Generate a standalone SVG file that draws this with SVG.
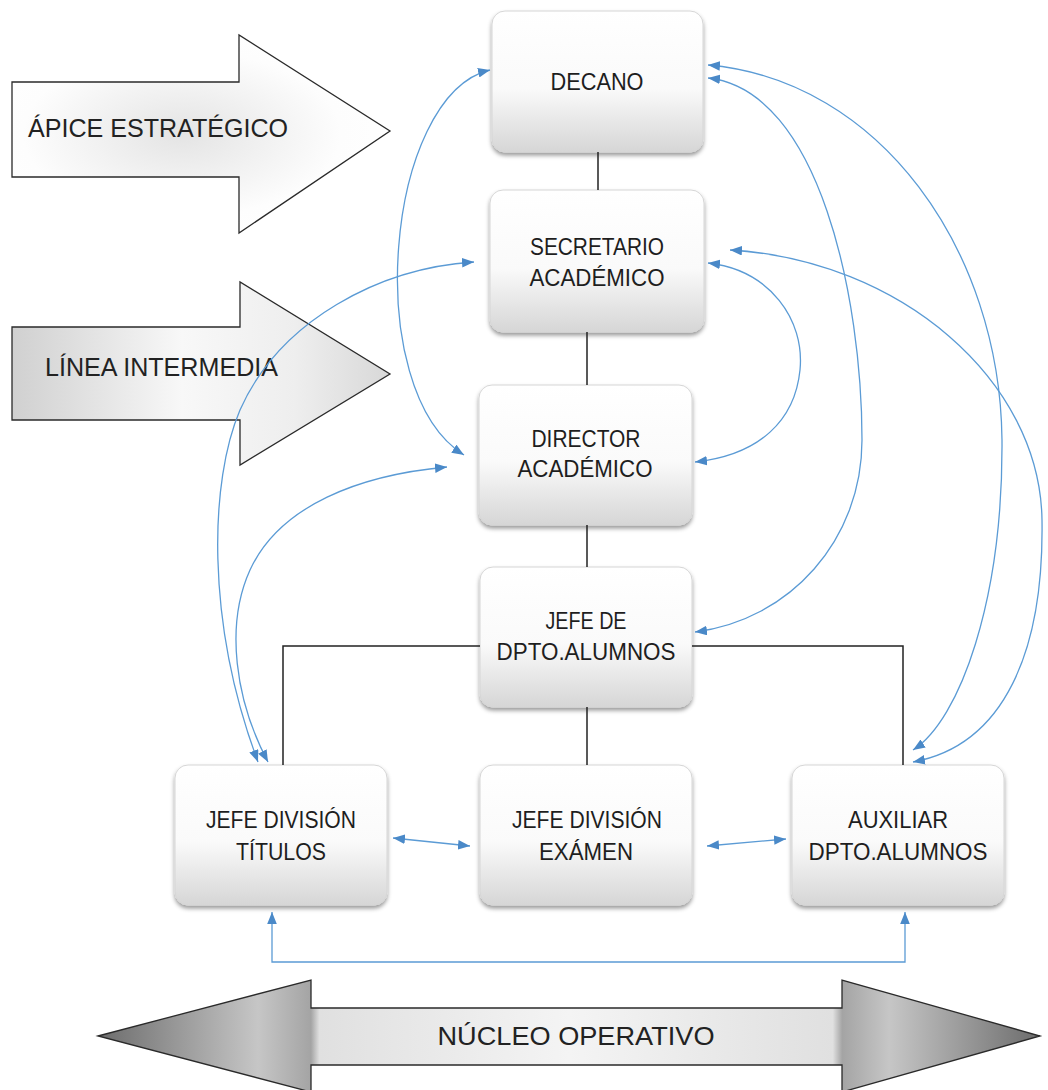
<svg xmlns="http://www.w3.org/2000/svg" width="1048" height="1090" viewBox="0 0 1048 1090">
<style>
.node rect{fill:url(#nodeGrad);stroke:#d6d6d6;stroke-width:1;filter:url(#shadow)}
.nt{font-family:"Liberation Sans","Noto Sans",Arial,sans-serif;font-size:24px;fill:#1e1e1e;text-anchor:middle}
.at{font-family:"Liberation Sans",Arial,sans-serif;font-size:25px;fill:#222}
.blk{fill:none;stroke:#222;stroke-width:1.5}
.blu{fill:none;stroke:#5b9bd5;stroke-width:1.3;marker-start:url(#ah);marker-end:url(#ah)}
.big{stroke:#2a2a2a;stroke-width:1.3}
</style>
<defs>
<linearGradient id="nodeGrad" x1="0" y1="0" x2="0" y2="1">
<stop offset="0" stop-color="#ffffff"/>
<stop offset="0.55" stop-color="#fafafa"/>
<stop offset="1" stop-color="#d6d6d6"/>
</linearGradient>
<filter id="shadow" x="-10%" y="-10%" width="120%" height="130%">
<feDropShadow dx="0" dy="3" stdDeviation="2" flood-color="#000" flood-opacity="0.4"/>
</filter>
<radialGradient id="g1" cx="0.45" cy="0.5" r="0.6">
<stop offset="0" stop-color="#e4e4e4"/>
<stop offset="0.7" stop-color="#fdfdfd"/>
<stop offset="1" stop-color="#ffffff"/>
</radialGradient>
<linearGradient id="g2" x1="0" y1="0" x2="1" y2="0">
<stop offset="0" stop-color="#d0d0d0"/>
<stop offset="0.45" stop-color="#f8f8f8"/>
<stop offset="0.75" stop-color="#eeeeee"/>
<stop offset="1" stop-color="#d8d8d8"/>
</linearGradient>
<linearGradient id="g3" gradientUnits="userSpaceOnUse" x1="98" y1="0" x2="1040" y2="0">
<stop offset="0" stop-color="#6c6c6c"/>
<stop offset="0.17" stop-color="#c6c6c6"/>
<stop offset="0.226" stop-color="#a4a4a4"/>
<stop offset="0.235" stop-color="#e0e0e0"/>
<stop offset="0.5" stop-color="#f4f4f4"/>
<stop offset="0.78" stop-color="#e0e0e0"/>
<stop offset="0.79" stop-color="#a4a4a4"/>
<stop offset="0.84" stop-color="#c6c6c6"/>
<stop offset="1" stop-color="#6c6c6c"/>
</linearGradient>
<marker id="ah" viewBox="0 0 10 8" refX="10" refY="4" markerWidth="12" markerHeight="9.6" markerUnits="userSpaceOnUse" orient="auto-start-reverse">
<path d="M0,0 L10,4 L0,8 z" fill="#4a89c8"/>
</marker>
</defs>
<rect width="1048" height="1090" fill="#ffffff"/>

<g id="apice">
<polygon class="big" fill="url(#g1)" points="12,82 239,82 239,35 390,131 239,233 239,177 12,177"/>
<text class="at" x="28" y="137" textLength="260" lengthAdjust="spacingAndGlyphs">ÁPICE ESTRATÉGICO</text>
</g>
<g id="linea">
<polygon class="big" fill="url(#g2)" points="12,327 240,327 240,282 390,374 240,465 240,420 12,420"/>
<text class="at" x="45" y="376" textLength="233" lengthAdjust="spacingAndGlyphs">LÍNEA INTERMEDIA</text>
</g>
<g id="nucleo">
<polygon class="big" fill="url(#g3)" points="98,1036 311,980 311,1008 842,1008 842,980 1040,1036 842,1092 842,1065 311,1065 311,1092"/>
<text class="at" x="576" y="1045" font-size="27" text-anchor="middle" textLength="277" lengthAdjust="spacingAndGlyphs">NÚCLEO OPERATIVO</text>
</g>

<g id="decano" class="node"><rect x="492" y="11" width="211" height="141" rx="13"/><text class="nt" x="597" y="90" textLength="93" lengthAdjust="spacingAndGlyphs">DECANO</text></g>
<g id="secretario" class="node"><rect x="490" y="190" width="214" height="142" rx="13"/><text class="nt" x="597" y="255" textLength="134" lengthAdjust="spacingAndGlyphs">SECRETARIO</text><text class="nt" x="597" y="286" textLength="135" lengthAdjust="spacingAndGlyphs">ACADÉMICO</text></g>
<g id="director" class="node"><rect x="479" y="385" width="213" height="140" rx="13"/><text class="nt" x="586" y="447" textLength="109" lengthAdjust="spacingAndGlyphs">DIRECTOR</text><text class="nt" x="585" y="477" textLength="135" lengthAdjust="spacingAndGlyphs">ACADÉMICO</text></g>
<g id="jefedpto" class="node"><rect x="480" y="567" width="212" height="140" rx="13"/><text class="nt" x="586" y="629" textLength="81" lengthAdjust="spacingAndGlyphs">JEFE DE</text><text class="nt" x="586" y="660" textLength="179" lengthAdjust="spacingAndGlyphs">DPTO.ALUMNOS</text></g>
<g id="titulos" class="node"><rect x="175" y="765" width="212" height="140" rx="13"/><text class="nt" x="281" y="828" textLength="150" lengthAdjust="spacingAndGlyphs">JEFE DIVISIÓN</text><text class="nt" x="281" y="860" textLength="90" lengthAdjust="spacingAndGlyphs">TÍTULOS</text></g>
<g id="examen" class="node"><rect x="480" y="765" width="212" height="140" rx="13"/><text class="nt" x="587" y="828" textLength="150" lengthAdjust="spacingAndGlyphs">JEFE DIVISIÓN</text><text class="nt" x="586" y="860" textLength="94" lengthAdjust="spacingAndGlyphs">EXÁMEN</text></g>
<g id="auxiliar" class="node"><rect x="792" y="765" width="212" height="140" rx="13"/><text class="nt" x="898" y="828" textLength="100" lengthAdjust="spacingAndGlyphs">AUXILIAR</text><text class="nt" x="898" y="860" textLength="179" lengthAdjust="spacingAndGlyphs">DPTO.ALUMNOS</text></g>

<g id="connectors">
<path class="blk" d="M598 152 V190" stroke-width="2"/>
<path class="blk" d="M587 332 V385"/>
<path class="blk" d="M587 525 V567" stroke-width="2"/>
<path class="blk" d="M480 646 H283 V765"/>
<path class="blk" d="M692 646 H903 V765"/>
<path class="blk" d="M587 707 V765"/>

<path class="blu" d="M490 70 C385 95 360 390 464 455"/>
<path class="blu" d="M474 262 C380 268 280 320 240 410 C210 480 205 620 258 762"/>
<path class="blu" d="M447 467 C360 475 280 505 250 570 C225 625 235 700 268 762"/>
<path class="blu" d="M708 65 C880 80 1000 250 1002 440 C1003 600 960 720 913 750"/>
<path class="blu" d="M708 78 C820 90 862 300 862 440 C862 540 790 620 695 632"/>
<path class="blu" d="M708 263 C770 270 805 320 800 370 C795 420 760 455 695 462"/>
<path class="blu" d="M730 250 C900 260 1040 380 1042 520 C1044 650 1005 745 913 762"/>
<path class="blu" d="M393 838 L470 846"/>
<path class="blu" d="M707 846 L786 839"/>
<path class="blu" d="M272 912 V962 H905 V912"/>
</g>
</svg>
